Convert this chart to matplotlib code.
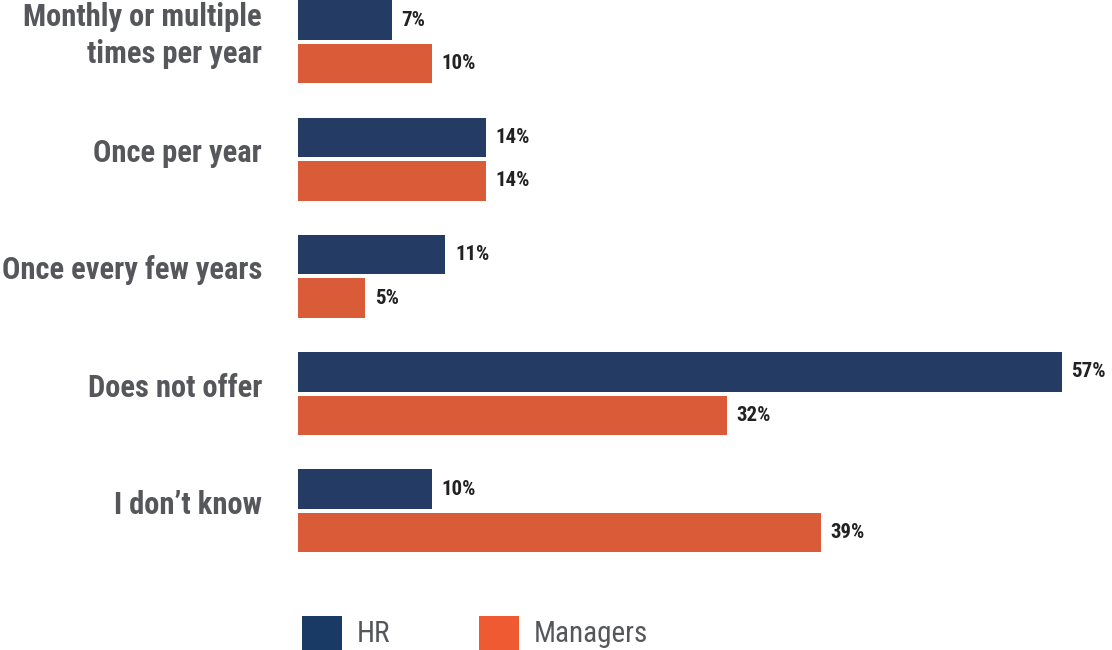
import numpy as np
import matplotlib
matplotlib.use("Agg")
import matplotlib.pyplot as plt
from matplotlib.patches import Rectangle

categories = [
    "Monthly or multiple\ntimes per year",
    "Once per year",
    "Once every few years",
    "Does not offer",
    "I don\u2019t know",
]
hr = [7, 14, 11, 57, 10]
managers = [10, 14, 5, 32, 39]

NAVY = "#243c64"
ORANGE = "#d95b37"
NAVY_KEY = "#1a3a66"
ORANGE_KEY = "#f05a32"
GRAY = "#55575a"
DARK = "#222222"

COND = ["Roboto Condensed", "Liberation Sans Narrow", "DejaVu Sans"]

W, H = 1112, 650
fig = plt.figure(figsize=(W / 100, H / 100), dpi=100)

# axes placed in pixel terms: bars start at x=298, group pitch ~117 px
group_px = 117.3
first_center = 41.75
ax_bottom_px = 560
ax = fig.add_axes([298 / W, 1 - ax_bottom_px / H, (W - 298) / W, ax_bottom_px / H])

y = np.arange(len(categories))
off = 0.185
h = 0.337
ax.barh(y - off, hr, height=h, color=NAVY)
ax.barh(y + off, managers, height=h, color=ORANGE)

ax.set_xlim(0, (W - 298) / 13.4)
ax.set_ylim((ax_bottom_px - first_center) / group_px, -first_center / group_px)
ax.axis("off")

for yi, v in zip(y - off, hr):
    ax.annotate(f"{v}%", (v, yi), xytext=(7, 0), textcoords="offset points",
                va="center", ha="left", fontsize=15, fontweight="bold",
                color=DARK, family=COND)
for yi, v in zip(y + off, managers):
    ax.annotate(f"{v}%", (v, yi), xytext=(7, 0), textcoords="offset points",
                va="center", ha="left", fontsize=15, fontweight="bold",
                color=DARK, family=COND)

# category labels, right-aligned left of the bars
for yi, lab in zip(y, categories):
    ax.annotate(lab, (0, yi - 0.05), xytext=(-26, 0), textcoords="offset points",
                va="center", ha="right", fontsize=22, fontweight="bold",
                color=GRAY, family=COND, linespacing=1.3,
                annotation_clip=False)

# legend keys along the bottom edge
for x0, col, lab in [(302, NAVY_KEY, "HR"), (479, ORANGE_KEY, "Managers")]:
    fig.add_artist(Rectangle((x0 / W, -0.05), 40 / W, (0.05 + (650 - 616) / H),
                             transform=fig.transFigure, color=col, lw=0))
    fig.text((x0 + 55) / W, 1 - 634 / H, lab, va="center", ha="left",
             fontsize=21, color=GRAY, family=COND)

fig.savefig("out.png", dpi=100)
